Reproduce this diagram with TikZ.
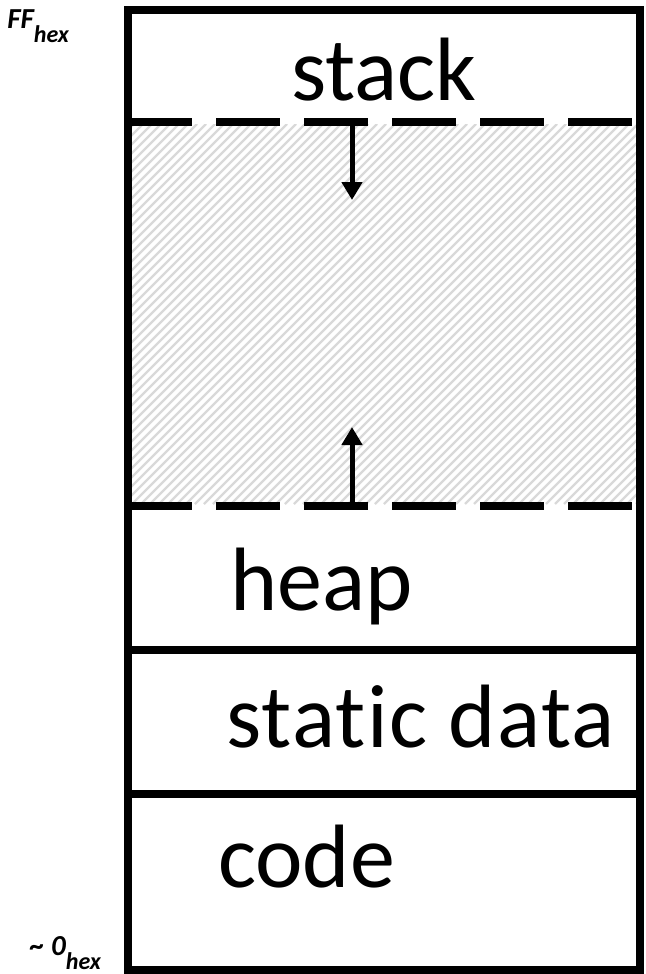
\documentclass[tikz,border=0pt]{standalone}
\usepackage{fontspec}
\setmainfont{Carlito}[Ligatures=NoCommon]
\usetikzlibrary{arrows.meta}
\definecolor{memK}{RGB}{0,0,0}
\definecolor{hatchG}{RGB}{217,217,217}

\begin{document}
\begin{tikzpicture}[x=1pt,y=-1pt]
  \tikzset{wall/.style={draw=memK,line width=8pt},
    gapline/.style={wall,dash pattern=on 64pt off 24pt},
    seg/.style={font=\fontsize{90}{90}\selectfont,inner sep=0pt},
    growarrow/.style={-{Triangle[length=18pt,width=20pt]},line width=5pt,memK},
    addr/.style={font=\fontsize{29}{29}\selectfont\bfseries\itshape,inner sep=0pt,anchor=base east}}
  \newcommand\hexsub{\raisebox{-14pt}{\fontsize{24}{24}\selectfont hex}}
  \useasboundingbox (0,0) rectangle (645,974);
  % free space between stack and heap
  \begin{scope}
    \clip (132,124) rectangle (636,504);
    \foreach \k in {-43,...,56}
      \draw[hatchG,line width=2.2pt] (132+\k*9,504) -- ++(380,-380);
  \end{scope}
  \draw[wall] (128,10) rectangle (640,970);
  \draw[gapline] (128,122) -- (640,122);
  \draw[gapline] (128,506) -- (640,506);
  \draw[wall] (128,650) -- (640,650);
  \draw[wall] (128,794) -- (640,794);
  \node[seg,anchor=base] (stack) at (384,100) {stack};
  \node[seg,anchor=base west] (heap) at (230,610) {heap};
  \node[seg,anchor=base west] (static) at (226,747) {\addfontfeature{LetterSpace=1.5}static data};
  \node[seg,anchor=base west] (code) at (218,887) {code};
  \coordinate (stkTop) at (352,126);
  \coordinate (stkEnd) at (352,200);
  \coordinate (hpTop) at (352,502);
  \coordinate (hpEnd) at (352,427);
  \draw[growarrow] (stkTop) -- (stkEnd);
  \draw[growarrow] (hpTop) -- (hpEnd);
  \node[addr] (hiAddr) at (69,29) {FF\hexsub};
  \node[addr] (loAddr) at (101,955) {\textasciitilde{} 0\hexsub};
\end{tikzpicture}
\end{document}
